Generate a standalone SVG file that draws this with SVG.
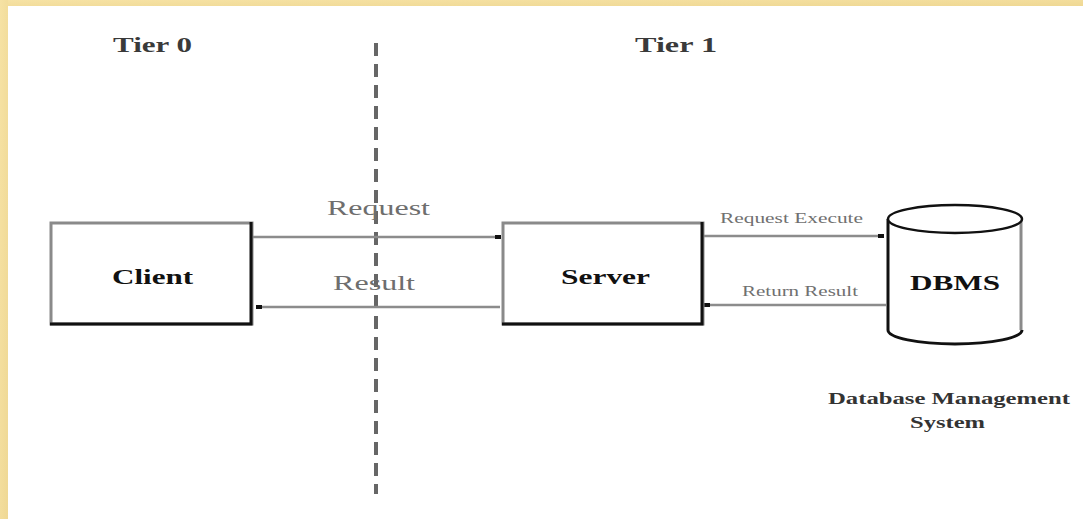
<svg xmlns="http://www.w3.org/2000/svg" width="1083" height="519" viewBox="0 0 1083 519">
<style>
.tier{font-family:"Liberation Serif",serif;font-weight:bold;font-size:20px;fill:#3a3a3a}
.node{font-family:"Liberation Serif",serif;font-weight:bold;font-size:22px;fill:#111}
.lab{font-family:"Liberation Serif",serif;font-size:21px;fill:#6e6e6e}
.slab{font-family:"Liberation Serif",serif;font-size:14px;fill:#707070}
.cap{font-family:"Liberation Serif",serif;font-weight:bold;font-size:17px;fill:#333}
.conn{stroke:#8c8c8c;stroke-width:2.5;fill:none}
.lite{stroke:#8a8a8a;stroke-width:3;fill:none}
.dark{stroke:#111;stroke-width:3;fill:none}
</style>
<defs>
<linearGradient id="fr" x1="0" y1="0" x2="1" y2="1">
<stop offset="0" stop-color="#f6e2a4"/>
<stop offset="1" stop-color="#efd894"/>
</linearGradient>
</defs>
<rect width="1083" height="519" fill="#ffffff"/>
<rect x="0" y="0" width="1083" height="6" fill="url(#fr)"/>
<rect x="0" y="0" width="8" height="519" fill="url(#fr)"/>

<g id="tiers">
<text class="tier" x="113" y="52" textLength="79" lengthAdjust="spacingAndGlyphs">Tier 0</text>
<text class="tier" x="635" y="52" textLength="82" lengthAdjust="spacingAndGlyphs">Tier 1</text>
<line x1="376" y1="43" x2="376" y2="494" stroke="#666" stroke-width="4" stroke-dasharray="13 8"/>
</g>

<g id="connectors">
<line class="conn" x1="253" y1="237" x2="500" y2="237"/>
<rect x="495" y="235" width="6" height="4" fill="#111"/>
<line class="conn" x1="256" y1="307" x2="500" y2="307"/>
<rect x="256" y="305" width="6" height="4" fill="#111"/>
<line class="conn" x1="704" y1="236" x2="884" y2="236"/>
<rect x="878" y="234" width="6" height="4" fill="#111"/>
<line class="conn" x1="704" y1="305" x2="886" y2="305"/>
<rect x="704" y="303" width="6" height="4" fill="#111"/>
<text class="lab" x="327" y="215" textLength="103" lengthAdjust="spacingAndGlyphs">Request</text>
<text class="lab" x="333" y="290" textLength="82" lengthAdjust="spacingAndGlyphs">Result</text>
<text class="slab" x="720" y="223" textLength="143" lengthAdjust="spacingAndGlyphs">Request Execute</text>
<text class="slab" x="742" y="296" textLength="116" lengthAdjust="spacingAndGlyphs">Return Result</text>
</g>

<g id="client">
<rect x="51" y="223" width="201" height="101" fill="#fff" class="lite"/>
<polyline class="dark" points="251,222 251,324 50,324"/>
<text class="node" x="112" y="284" textLength="81" lengthAdjust="spacingAndGlyphs">Client</text>
</g>

<g id="server">
<rect x="503" y="223" width="200" height="101" fill="#fff" class="lite"/>
<polyline class="dark" points="702,222 702,324 502,324"/>
<text class="node" x="561" y="284" textLength="89" lengthAdjust="spacingAndGlyphs">Server</text>
</g>

<g id="dbms">
<path d="M888,219 L888,330 A67,14 0 0 0 1022,330 L1022,219" fill="#fff" stroke="none"/>
<line x1="1021" y1="219" x2="1021" y2="330" class="lite"/>
<path d="M888,219 L888,330 A67,14 0 0 0 1022,330" class="dark"/>
<ellipse cx="955" cy="219" rx="67" ry="14" fill="#fff" stroke="#111" stroke-width="2.5"/>
<text class="node" x="910" y="290" textLength="90" lengthAdjust="spacingAndGlyphs">DBMS</text>
<text class="cap" x="828" y="404" textLength="242" lengthAdjust="spacingAndGlyphs">Database Management</text>
<text class="cap" x="910" y="428" textLength="75" lengthAdjust="spacingAndGlyphs">System</text>
</g>
</svg>
